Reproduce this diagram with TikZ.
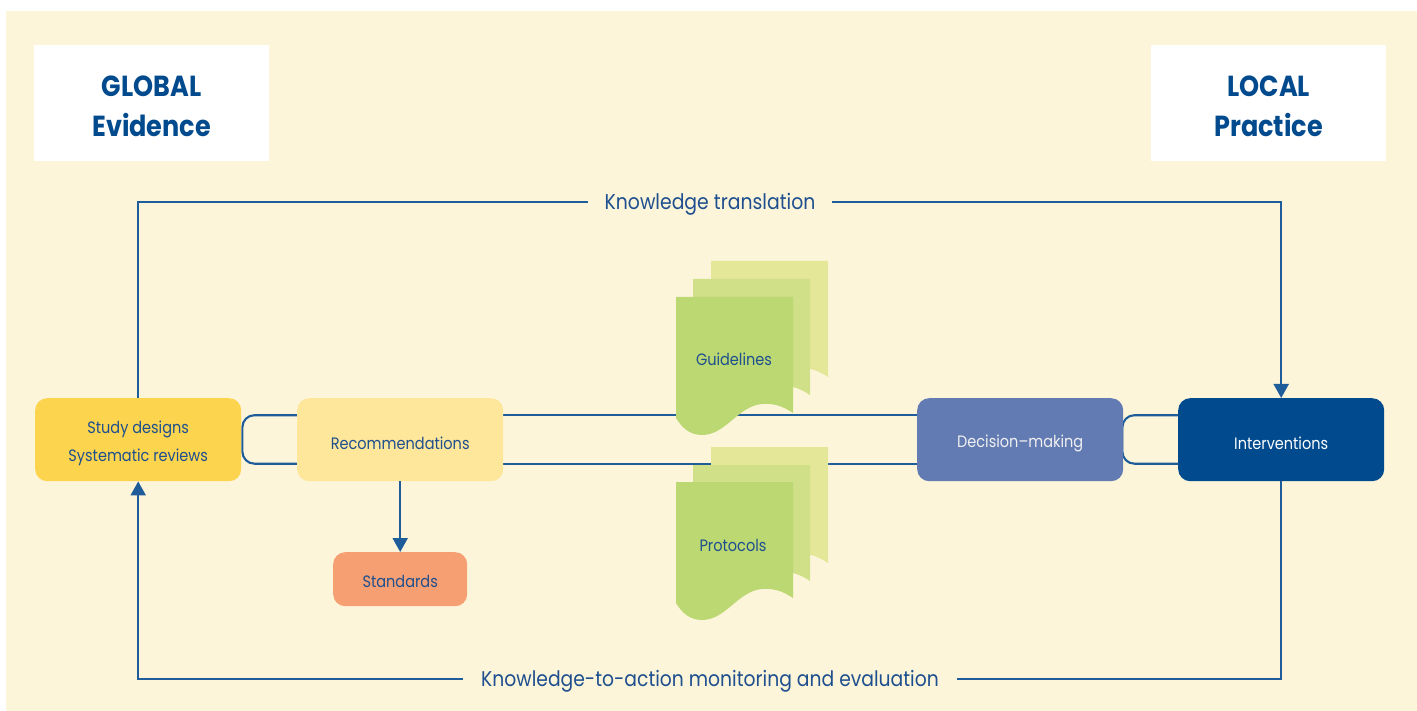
\documentclass[tikz,border=0pt]{standalone}
\usepackage{fontspec}
\setmainfont{Poppins}[FakeStretch=0.88]
\usetikzlibrary{arrows.meta}
\definecolor{cream}{HTML}{FDF5DA}
\definecolor{linkc}{HTML}{1F5C9A}
\definecolor{txtc}{HTML}{1E4F8E}
\definecolor{headc}{HTML}{004A8D}
\definecolor{studyc}{HTML}{FDD44E}
\definecolor{recoc}{HTML}{FEE69A}
\definecolor{stdc}{HTML}{F69F73}
\definecolor{decc}{HTML}{627BB3}
\definecolor{intc}{HTML}{004A8D}
\definecolor{pagea}{HTML}{BBD872}
\definecolor{pageb}{HTML}{CFE088}
\definecolor{pagec}{HTML}{E4E698}
\pgfdeclarelayer{back}
\pgfdeclarelayer{bg}
\pgfsetlayers{back,bg,main}
\tikzset{
  headbox/.style={fill=white, minimum width=235pt, minimum height=116pt, anchor=north west},
  headtext/.style={align=center, text=headc, yshift=-3pt, font=\fontsize{29}{40}\selectfont\bfseries},
  flowbox/.style={rounded corners=12pt, minimum width=206pt, minimum height=83pt, anchor=north west},
  boxtext/.style={align=center, text=txtc, yshift=-3.5pt, font=\fontsize{16.5}{28}\selectfont},
  link/.style={draw=linkc, line width=2.1pt},
  tip/.style={-{Triangle[width=15pt,length=14pt]}},
  looplabel/.style={text=txtc, inner xsep=16pt, font=\fontsize{21.4}{24}\selectfont},
  pagelabel/.style={text=txtc, font=\fontsize{16.5}{20}\selectfont},
  docpage/.pic={\fill[#1] (0,0) -- (117,0) -- (117,116)
     .. controls (108,110) and (99,106) .. (86,107)
     .. controls (62,109) and (50,138) .. (26,138)
     .. controls (14,138) and (6,131) .. (0,121) -- cycle;}
}
\begin{document}
\begin{tikzpicture}[x=1pt,y=-1pt]
\useasboundingbox (0,0) rectangle (1417,711);
\begin{pgfonlayer}{back}
\fill[white] (0,0) rectangle (1417,711);
\fill[cream] (6,11) rectangle (1417,711);
\end{pgfonlayer}

\node[headbox, label={[headtext]center:GLOBAL\\Evidence}] (global) at (34,45) {};
\node[headbox, label={[headtext]center:LOCAL\\Practice}] (local) at (1151,45) {};

\node[flowbox, fill=studyc, label={[boxtext]center:Study designs\\Systematic reviews}] (study) at (35,398) {};
\node[flowbox, fill=recoc, label={[boxtext]center:Recommendations}] (reco) at (297,398) {};
\node[flowbox, fill=stdc, minimum width=134pt, minimum height=54pt, label={[boxtext, yshift=1pt]center:Standards}] (std) at (333,552) {};
\node[flowbox, fill=decc, label={[boxtext, text=white!94!black]center:Decision--making}] (dec) at (917,398) {};
\node[flowbox, fill=intc, label={[boxtext, text=white]center:Interventions}] (int) at (1178,398) {};

\node[looplabel] (kt) at (710,204) {Knowledge translation};
\node[looplabel, inner xsep=18pt, font=\fontsize{21.3}{24}\selectfont] (ka) at (710,681) {Knowledge-to-action monitoring and evaluation};

% document stacks
\pic at (711,261) {docpage=pagec};
\pic at (693,279) {docpage=pageb};
\pic at (676,297) {docpage=pagea};
\node[pagelabel] (guide) at (734,359) {Guidelines};
\pic at (711,447) {docpage=pagec};
\pic at (693,465) {docpage=pageb};
\pic at (676,482) {docpage=pagea};
\node[pagelabel] (proto) at (733,545) {Protocols};

\begin{pgfonlayer}{bg}
\draw[link, rounded corners=12pt] ([yshift=24.5pt]reco.west) -| ([xshift=1pt]study.east) |- ([yshift=-24pt]reco.west);
\draw[link] ([yshift=24.5pt]reco.east) -- ([yshift=24.5pt]dec.west);
\draw[link] ([yshift=-24pt]reco.east) -- ([yshift=-24pt]dec.west);
\draw[link, rounded corners=12pt] ([yshift=24.5pt]int.west) -| ([xshift=-1pt]dec.east) |- ([yshift=-24pt]int.west);
\end{pgfonlayer}

\draw[link] (study.north) |- ([yshift=2pt]kt.west);
\draw[link, tip] ([yshift=2pt]kt.east) -| (int.north);
\draw[link] (int.south) |- ([yshift=2pt]ka.east);
\draw[link, tip] ([yshift=2pt]ka.west) -| (study.south);
\draw[link, tip] (reco.south) -- (std.north);
\end{tikzpicture}
\end{document}
